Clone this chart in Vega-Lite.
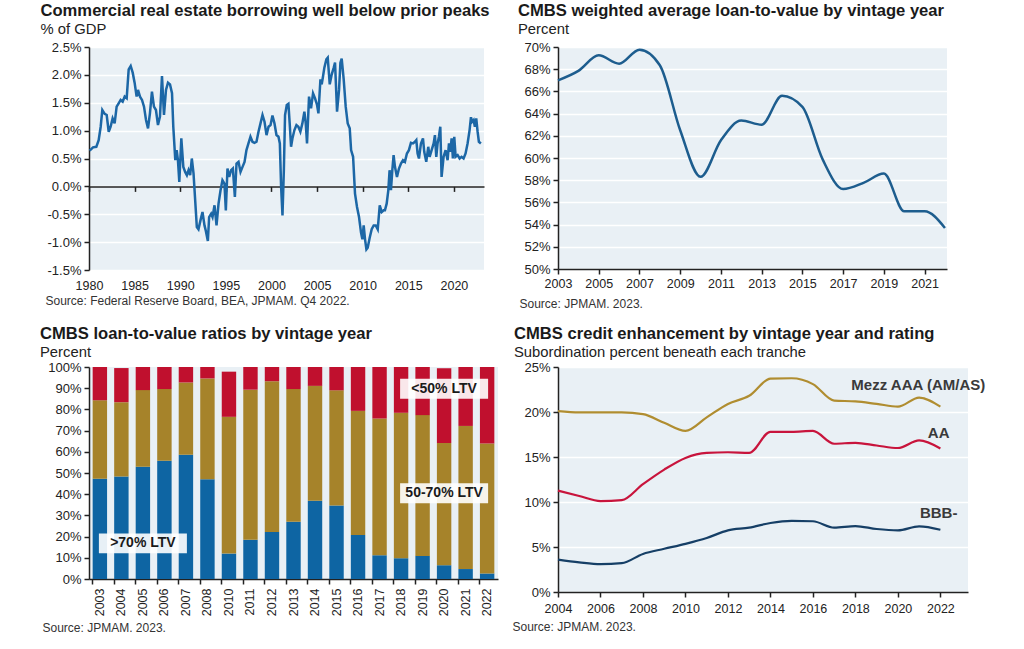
{
  "$schema": "https://vega.github.io/schema/vega-lite/v6.json",
  "background": "white",
  "padding": {"left": 40, "top": 2, "right": 5, "bottom": 5},
  "config": {
    "font": "Liberation Sans",
    "view": {"fill": "#e9f0f5", "stroke": null},
    "axis": {
      "labelFont": "Liberation Sans", "labelFontSize": 12.5, "labelColor": "#222",
      "domainColor": "#222", "tickColor": "#222", "domainWidth": 1.5, "tickWidth": 1.5, "tickSize": 5,
      "gridColor": "#ffffff", "gridWidth": 1.5, "labelPadding": 3,
      "titleFont": "Liberation Sans", "titleFontSize": 12, "titleFontWeight": "normal", "titleColor": "#333",
      "titleAnchor": "start", "titleAlign": "left", "titleBaseline": "alphabetic"
    },
    "axisX": {"labelFlush": false, "labelOverlap": false},
    "axisY": {"labelOverlap": false},
    "title": {
      "font": "Liberation Sans", "fontSize": 16.6, "fontWeight": "bold", "color": "#1a1a1a", "anchor": "start", "frame": "group",
      "subtitleFont": "Liberation Sans", "subtitleFontSize": 14.8, "subtitleColor": "#222", "subtitlePadding": 3
    }
  },
  "datasets": {
    "gdp": [
      {"t":1980.07,"v":0.64},{"t":1980.44,"v":0.70},{"t":1980.80,"v":0.71},{"t":1981.06,"v":0.83},{"t":1981.28,"v":1.07},{"t":1981.46,"v":1.37},{"t":1981.72,"v":1.30},{"t":1981.94,"v":1.28},{"t":1982.16,"v":0.98},{"t":1982.37,"v":1.07},{"t":1982.59,"v":1.22},{"t":1982.81,"v":1.13},{"t":1983.03,"v":1.43},{"t":1983.25,"v":1.49},{"t":1983.47,"v":1.55},{"t":1983.69,"v":1.52},{"t":1983.91,"v":1.61},{"t":1984.13,"v":1.58},{"t":1984.35,"v":2.10},{"t":1984.57,"v":2.16},{"t":1984.79,"v":2.04},{"t":1985.00,"v":1.86},{"t":1985.22,"v":1.61},{"t":1985.37,"v":1.73},{"t":1985.59,"v":1.61},{"t":1985.81,"v":1.55},{"t":1986.03,"v":1.43},{"t":1986.25,"v":1.19},{"t":1986.47,"v":1.04},{"t":1986.68,"v":1.31},{"t":1986.90,"v":1.70},{"t":1987.12,"v":1.43},{"t":1987.34,"v":1.37},{"t":1987.56,"v":1.10},{"t":1987.78,"v":1.25},{"t":1988.00,"v":1.98},{"t":1988.22,"v":1.28},{"t":1988.44,"v":1.73},{"t":1988.66,"v":1.86},{"t":1988.88,"v":1.83},{"t":1989.10,"v":1.67},{"t":1989.24,"v":1.07},{"t":1989.46,"v":0.47},{"t":1989.61,"v":0.65},{"t":1989.75,"v":0.47},{"t":1989.90,"v":0.08},{"t":1990.12,"v":0.86},{"t":1990.34,"v":0.35},
      {"t":1990.54,"v":0.26},{"t":1990.73,"v":0.20},{"t":1990.91,"v":0.29},{"t":1991.09,"v":0.20},{"t":1991.27,"v":0.50},{"t":1991.46,"v":0.23},{"t":1991.64,"v":-0.25},{"t":1991.82,"v":-0.73},{"t":1992.00,"v":-0.77},{"t":1992.22,"v":-0.61},{"t":1992.44,"v":-0.46},{"t":1992.66,"v":-0.70},{"t":1992.81,"v":-0.80},{"t":1993.03,"v":-0.98},{"t":1993.17,"v":-0.55},{"t":1993.39,"v":-0.49},{"t":1993.54,"v":-0.55},{"t":1993.76,"v":-0.34},{"t":1993.98,"v":-0.70},{"t":1994.20,"v":-0.31},{"t":1994.42,"v":-0.07},{"t":1994.63,"v":0.11},{"t":1994.85,"v":0.05},{"t":1995.00,"v":-0.43},{"t":1995.18,"v":0.32},{"t":1995.37,"v":0.17},{"t":1995.58,"v":0.29},{"t":1995.77,"v":0.32},{"t":1995.99,"v":-0.19},{"t":1996.17,"v":0.41},{"t":1996.39,"v":0.44},{"t":1996.61,"v":0.26},{"t":1996.83,"v":0.35},{"t":1997.05,"v":0.44},{"t":1997.26,"v":0.65},{"t":1997.48,"v":0.77},{"t":1997.70,"v":0.89},{"t":1997.92,"v":0.80},{"t":1998.14,"v":0.78},{"t":1998.36,"v":0.80},{"t":1998.58,"v":0.98},{"t":1998.80,"v":1.13},{"t":1999.02,"v":1.28},{"t":1999.24,"v":1.16},{"t":1999.46,"v":0.92},{"t":1999.68,"v":1.07},{"t":1999.90,"v":1.10},{"t":2000.11,"v":1.27},{"t":2000.33,"v":1.13},{"t":2000.55,"v":0.92},{"t":2000.77,"v":0.89},{"t":2000.92,"v":0.77},{"t":2001.06,"v":-0.01},{"t":2001.21,"v":-0.52},{"t":2001.36,"v":0.29},
      {"t":2001.49,"v":1.28},{"t":2001.68,"v":1.46},{"t":2001.86,"v":1.48},{"t":2002.00,"v":1.13},{"t":2002.15,"v":0.71},{"t":2002.30,"v":0.86},{"t":2002.52,"v":1.01},{"t":2002.74,"v":1.10},{"t":2002.95,"v":1.07},{"t":2003.17,"v":0.98},{"t":2003.39,"v":1.13},{"t":2003.61,"v":1.34},{"t":2003.76,"v":1.13},{"t":2003.90,"v":0.77},{"t":2004.12,"v":1.61},{"t":2004.34,"v":1.40},{"t":2004.56,"v":1.67},{"t":2004.78,"v":1.58},{"t":2005.00,"v":1.46},{"t":2005.15,"v":1.31},{"t":2005.37,"v":1.92},{"t":2005.51,"v":1.83},{"t":2005.66,"v":1.98},{"t":2005.80,"v":2.13},{"t":2006.02,"v":2.28},{"t":2006.17,"v":2.31},{"t":2006.39,"v":1.83},{"t":2006.61,"v":2.01},{"t":2006.83,"v":2.13},{"t":2006.97,"v":2.22},{"t":2007.19,"v":1.34},{"t":2007.41,"v":1.73},{"t":2007.56,"v":2.22},{"t":2007.70,"v":2.29},{"t":2007.92,"v":1.92},{"t":2008.14,"v":1.43},{"t":2008.36,"v":1.13},{"t":2008.58,"v":1.04},{"t":2008.73,"v":0.65},{"t":2008.95,"v":0.53},{"t":2009.16,"v":-0.13},{"t":2009.38,"v":-0.37},{"t":2009.60,"v":-0.55},{"t":2009.82,"v":-0.83},{"t":2009.97,"v":-0.95},{"t":2010.11,"v":-0.70},{"t":2010.26,"v":-0.95},{"t":2010.41,"v":-1.13},{"t":2010.55,"v":-1.10},{"t":2010.77,"v":-0.92},{"t":2010.99,"v":-0.77},{"t":2011.21,"v":-0.70},{"t":2011.43,"v":-0.70},{"t":2011.65,"v":-0.77},{"t":2011.87,"v":-0.34},{"t":2012.09,"v":-0.46},{"t":2012.31,"v":-0.43},
      {"t":2012.44,"v":-0.43},{"t":2012.63,"v":-0.31},{"t":2012.81,"v":-0.07},{"t":2012.95,"v":0.29},{"t":2013.10,"v":-0.07},{"t":2013.25,"v":0.29},{"t":2013.39,"v":0.56},{"t":2013.54,"v":0.35},{"t":2013.76,"v":0.17},{"t":2013.98,"v":0.32},{"t":2014.20,"v":0.41},{"t":2014.42,"v":0.47},{"t":2014.63,"v":0.44},{"t":2014.85,"v":0.59},{"t":2015.07,"v":0.65},{"t":2015.29,"v":0.78},{"t":2015.51,"v":0.77},{"t":2015.73,"v":0.80},{"t":2015.88,"v":0.83},{"t":2016.02,"v":0.59},{"t":2016.17,"v":0.50},{"t":2016.39,"v":0.77},{"t":2016.61,"v":0.86},{"t":2016.75,"v":0.62},{"t":2016.97,"v":0.44},{"t":2017.19,"v":0.71},{"t":2017.34,"v":0.53},{"t":2017.56,"v":0.65},{"t":2017.78,"v":0.77},{"t":2017.92,"v":0.92},{"t":2018.07,"v":0.53},{"t":2018.21,"v":0.77},{"t":2018.36,"v":0.89},{"t":2018.51,"v":1.07},{"t":2018.65,"v":0.17},{"t":2018.87,"v":0.53},{"t":2019.09,"v":0.65},{"t":2019.31,"v":0.47},{"t":2019.46,"v":0.77},{"t":2019.60,"v":0.62},{"t":2019.75,"v":0.86},{"t":2019.89,"v":0.50},{"t":2020.04,"v":0.89},{"t":2020.19,"v":0.53},{"t":2020.41,"v":0.56},{"t":2020.63,"v":0.50},{"t":2020.84,"v":0.53},{"t":2021.06,"v":0.50},{"t":2021.28,"v":0.59},{"t":2021.50,"v":0.77},{"t":2021.72,"v":1.01},{"t":2021.87,"v":1.24},{"t":2022.01,"v":1.16},{"t":2022.16,"v":1.19},{"t":2022.30,"v":1.07},{"t":2022.45,"v":1.22},{"t":2022.60,"v":0.98},{"t":2022.74,"v":0.80},{"t":2022.96,"v":0.77}
    ],
    "ltv": [
      {"year":2003,"v":67.0},{"year":2004,"v":67.85},{"year":2005,"v":69.25},{"year":2006,"v":68.5},{"year":2007,"v":69.76},{"year":2008,"v":68.36},{"year":2009,"v":62.5},{"year":2010,"v":58.3},{"year":2011,"v":61.6},{"year":2012,"v":63.37},{"year":2013,"v":63.0},{"year":2014,"v":65.6},{"year":2015,"v":64.6},{"year":2016,"v":59.85},{"year":2017,"v":57.2},{"year":2018,"v":57.76},{"year":2019,"v":58.6},{"year":2020,"v":55.2},{"year":2021,"v":55.2},{"year":2022,"v":53.7}
    ],
    "bars": [
      {"year":"2003","cat":">70% LTV","ord":0,"v":47.3},{"year":"2003","cat":"50-70% LTV","ord":1,"v":37.0},{"year":"2003","cat":"<50% LTV","ord":2,"v":15.7},
      {"year":"2004","cat":">70% LTV","ord":0,"v":48.4},{"year":"2004","cat":"50-70% LTV","ord":1,"v":35.0},{"year":"2004","cat":"<50% LTV","ord":2,"v":16.1},
      {"year":"2005","cat":">70% LTV","ord":0,"v":53.0},{"year":"2005","cat":"50-70% LTV","ord":1,"v":36.1},{"year":"2005","cat":"<50% LTV","ord":2,"v":10.9},
      {"year":"2006","cat":">70% LTV","ord":0,"v":55.8},{"year":"2006","cat":"50-70% LTV","ord":1,"v":33.8},{"year":"2006","cat":"<50% LTV","ord":2,"v":10.4},
      {"year":"2007","cat":">70% LTV","ord":0,"v":58.6},{"year":"2007","cat":"50-70% LTV","ord":1,"v":34.1},{"year":"2007","cat":"<50% LTV","ord":2,"v":7.3},
      {"year":"2008","cat":">70% LTV","ord":0,"v":47.1},{"year":"2008","cat":"50-70% LTV","ord":1,"v":47.5},{"year":"2008","cat":"<50% LTV","ord":2,"v":5.4},
      {"year":"2010","cat":">70% LTV","ord":0,"v":12.0},{"year":"2010","cat":"50-70% LTV","ord":1,"v":64.5},{"year":"2010","cat":"<50% LTV","ord":2,"v":21.3},
      {"year":"2011","cat":">70% LTV","ord":0,"v":18.5},{"year":"2011","cat":"50-70% LTV","ord":1,"v":70.8},{"year":"2011","cat":"<50% LTV","ord":2,"v":10.7},
      {"year":"2012","cat":">70% LTV","ord":0,"v":22.2},{"year":"2012","cat":"50-70% LTV","ord":1,"v":71.1},{"year":"2012","cat":"<50% LTV","ord":2,"v":6.7},
      {"year":"2013","cat":">70% LTV","ord":0,"v":27.0},{"year":"2013","cat":"50-70% LTV","ord":1,"v":62.6},{"year":"2013","cat":"<50% LTV","ord":2,"v":10.4},
      {"year":"2014","cat":">70% LTV","ord":0,"v":36.9},{"year":"2014","cat":"50-70% LTV","ord":1,"v":54.2},{"year":"2014","cat":"<50% LTV","ord":2,"v":8.9},
      {"year":"2015","cat":">70% LTV","ord":0,"v":34.7},{"year":"2015","cat":"50-70% LTV","ord":1,"v":54.3},{"year":"2015","cat":"<50% LTV","ord":2,"v":11.0},
      {"year":"2016","cat":">70% LTV","ord":0,"v":20.8},{"year":"2016","cat":"50-70% LTV","ord":1,"v":58.5},{"year":"2016","cat":"<50% LTV","ord":2,"v":20.7},
      {"year":"2017","cat":">70% LTV","ord":0,"v":11.2},{"year":"2017","cat":"50-70% LTV","ord":1,"v":64.5},{"year":"2017","cat":"<50% LTV","ord":2,"v":24.3},
      {"year":"2018","cat":">70% LTV","ord":0,"v":9.8},{"year":"2018","cat":"50-70% LTV","ord":1,"v":68.6},{"year":"2018","cat":"<50% LTV","ord":2,"v":21.6},
      {"year":"2019","cat":">70% LTV","ord":0,"v":10.9},{"year":"2019","cat":"50-70% LTV","ord":1,"v":66.4},{"year":"2019","cat":"<50% LTV","ord":2,"v":22.7},
      {"year":"2020","cat":">70% LTV","ord":0,"v":6.5},{"year":"2020","cat":"50-70% LTV","ord":1,"v":57.7},{"year":"2020","cat":"<50% LTV","ord":2,"v":35.2},
      {"year":"2021","cat":">70% LTV","ord":0,"v":4.7},{"year":"2021","cat":"50-70% LTV","ord":1,"v":67.5},{"year":"2021","cat":"<50% LTV","ord":2,"v":27.8},
      {"year":"2022","cat":">70% LTV","ord":0,"v":2.6},{"year":"2022","cat":"50-70% LTV","ord":1,"v":61.3},{"year":"2022","cat":"<50% LTV","ord":2,"v":36.1}
    ],
    "barLabels": [
      {"year":"2005","y":16.8,"label":">70% LTV"},
      {"year":"2020","y":40.4,"label":"50-70% LTV"},
      {"year":"2020","y":89.7,"label":"<50% LTV"}
    ],
    "enh": [
      {"year":2004,"s":"Mezz AAA (AM/AS)","v":20.1},{"year":2005,"s":"Mezz AAA (AM/AS)","v":19.95},{"year":2006,"s":"Mezz AAA (AM/AS)","v":19.95},{"year":2007,"s":"Mezz AAA (AM/AS)","v":19.95},{"year":2008,"s":"Mezz AAA (AM/AS)","v":19.76},{"year":2009,"s":"Mezz AAA (AM/AS)","v":18.8},{"year":2010,"s":"Mezz AAA (AM/AS)","v":17.9},{"year":2011,"s":"Mezz AAA (AM/AS)","v":19.4},{"year":2012,"s":"Mezz AAA (AM/AS)","v":20.9},{"year":2013,"s":"Mezz AAA (AM/AS)","v":21.8},{"year":2014,"s":"Mezz AAA (AM/AS)","v":23.7},{"year":2015,"s":"Mezz AAA (AM/AS)","v":23.75},{"year":2016,"s":"Mezz AAA (AM/AS)","v":23.1},{"year":2017,"s":"Mezz AAA (AM/AS)","v":21.26},{"year":2018,"s":"Mezz AAA (AM/AS)","v":21.18},{"year":2019,"s":"Mezz AAA (AM/AS)","v":20.9},{"year":2020,"s":"Mezz AAA (AM/AS)","v":20.6},{"year":2021,"s":"Mezz AAA (AM/AS)","v":21.6},{"year":2022,"s":"Mezz AAA (AM/AS)","v":20.6},
      {"year":2004,"s":"AA","v":11.26},{"year":2005,"s":"AA","v":10.67},{"year":2006,"s":"AA","v":10.1},{"year":2007,"s":"AA","v":10.2},{"year":2008,"s":"AA","v":11.98},{"year":2009,"s":"AA","v":13.6},{"year":2010,"s":"AA","v":14.9},{"year":2011,"s":"AA","v":15.46},{"year":2012,"s":"AA","v":15.53},{"year":2013,"s":"AA","v":15.46},{"year":2014,"s":"AA","v":17.8},{"year":2015,"s":"AA","v":17.8},{"year":2016,"s":"AA","v":17.9},{"year":2017,"s":"AA","v":16.47},{"year":2018,"s":"AA","v":16.58},{"year":2019,"s":"AA","v":16.28},{"year":2020,"s":"AA","v":16.0},{"year":2021,"s":"AA","v":16.84},{"year":2022,"s":"AA","v":15.94},
      {"year":2004,"s":"BBB-","v":3.6},{"year":2005,"s":"BBB-","v":3.3},{"year":2006,"s":"BBB-","v":3.1},{"year":2007,"s":"BBB-","v":3.2},{"year":2008,"s":"BBB-","v":4.23},{"year":2009,"s":"BBB-","v":4.8},{"year":2010,"s":"BBB-","v":5.35},{"year":2011,"s":"BBB-","v":6.0},{"year":2012,"s":"BBB-","v":6.85},{"year":2013,"s":"BBB-","v":7.15},{"year":2014,"s":"BBB-","v":7.67},{"year":2015,"s":"BBB-","v":7.9},{"year":2016,"s":"BBB-","v":7.86},{"year":2017,"s":"BBB-","v":7.15},{"year":2018,"s":"BBB-","v":7.33},{"year":2019,"s":"BBB-","v":7.0},{"year":2020,"s":"BBB-","v":6.85},{"year":2021,"s":"BBB-","v":7.3},{"year":2022,"s":"BBB-","v":6.92}
    ],
    "enhLabels": [
      {"x":2020.96,"y":22.98,"label":"Mezz AAA (AM/AS)"},
      {"x":2021.92,"y":17.7,"label":"AA"},
      {"x":2021.92,"y":8.74,"label":"BBB-"}
    ]
  },
  "bounds": "flush",
  "columns": 2,
  "spacing": {"row": 97, "column": 60},
  "resolve": {"scale": {"color": "independent"}},
  "concat": [
    {
      "width": 395, "height": 223,
      "title": {"text": "Commercial real estate borrowing well below prior peaks", "subtitle": "% of GDP", "dx": -48.5, "offset": 4},
      "data": {"name": "gdp"},
      "mark": {"type": "line", "color": "#1c67a6", "strokeWidth": 2.5, "clip": true},
      "encoding": {
        "x": {"field": "t", "type": "quantitative", "scale": {"domain": [1980, 2023.3], "nice": false, "zero": false},
          "axis": {"values": [1980,1985,1990,1995,2000,2005,2010,2015,2020], "format": "d", "grid": false, "offset": -83.6, "labelPadding": 88,
            "title": "Source: Federal Reserve Board, BEA, JPMAM. Q4 2022.", "titleX": -44, "titleY": 117.6}},
        "y": {"field": "v", "type": "quantitative", "scale": {"domain": [-1.5, 2.5], "nice": false},
          "axis": {"values": [-1.5,-1,-0.5,0,0.5,1,1.5,2,2.5], "labelExpr": "replace(format(datum.value, '.1f'), '\u2212', '-') + '%'", "grid": true, "title": null, "labelFontSize": 13, "labelOverlap": false}}
      }
    },
    {
      "width": 389, "height": 222,
      "title": {"text": "CMBS weighted average loan-to-value by vintage year", "subtitle": "Percent", "dx": -40, "offset": 4},
      "data": {"name": "ltv"},
      "mark": {"type": "line", "color": "#1d5d8e", "strokeWidth": 2.5, "interpolate": "monotone"},
      "encoding": {
        "x": {"field": "year", "type": "quantitative", "scale": {"domain": [2003, 2022.1], "nice": false, "zero": false},
          "axis": {"values": [2003,2005,2007,2009,2011,2013,2015,2017,2019,2021], "format": "d", "grid": false,
            "title": "Source: JPMAM. 2023.", "titleX": -39, "titleY": 38}},
        "y": {"field": "v", "type": "quantitative", "scale": {"domain": [50, 70], "nice": false, "zero": false},
          "axis": {"values": [50,52,54,56,58,60,62,64,66,68,70], "labelExpr": "datum.value + '%'", "grid": true, "title": null, "labelFontSize": 13, "labelOverlap": false}}
      }
    },
    {
      "width": 409, "height": 212,
      "title": {"text": "CMBS loan-to-value ratios by vintage year", "subtitle": "Percent", "dx": -49, "offset": 1},
      "layer": [
        {
          "data": {"name": "bars"},
          "mark": {"type": "bar"},
          "encoding": {
            "x": {"field": "year", "type": "nominal", "sort": null, "scale": {"paddingInner": 0.33, "paddingOuter": 0.17},
              "axis": {"labelAngle": -90, "labelAlign": "right", "labelBaseline": "middle", "bandPosition": 0, "labelPadding": 4,
                "title": "Source: JPMAM. 2023.", "titleX": -47, "titleY": 52}},
            "y": {"field": "v", "type": "quantitative", "stack": "zero", "scale": {"domain": [0, 100], "nice": false},
              "axis": {"values": [0,10,20,30,40,50,60,70,80,90,100], "labelExpr": "datum.value + '%'", "grid": false, "title": null, "labelFontSize": 13, "labelOverlap": false}},
            "color": {"field": "cat", "type": "nominal", "scale": {"domain": [">70% LTV", "50-70% LTV", "<50% LTV"], "range": ["#0e65a3", "#a6832a", "#c0102e"]}, "legend": null},
            "order": {"field": "ord", "type": "quantitative"}
          }
        },
        {
          "data": {"name": "barLabels"},
          "mark": {"type": "point", "shape": "M-1,-0.227L1,-0.227L1,0.227L-1,0.227Z", "size": 7744, "filled": true, "fill": "#ffffff", "fillOpacity": 0.9, "strokeWidth": 0},
          "encoding": {
            "x": {"field": "year", "type": "nominal", "sort": null,
              "axis": {"labelAngle": -90, "labelAlign": "right", "labelBaseline": "middle", "bandPosition": 0, "labelPadding": 4,
                "title": "Source: JPMAM. 2023.", "titleX": -47, "titleY": 52}},
            "y": {"field": "y", "type": "quantitative",
              "axis": {"values": [0,10,20,30,40,50,60,70,80,90,100], "labelExpr": "datum.value + '%'", "grid": false, "title": null, "labelFontSize": 13, "labelOverlap": false}}
          }
        },
        {
          "data": {"name": "barLabels"},
          "mark": {"type": "text", "font": "Liberation Sans", "fontSize": 14, "fontWeight": "bold", "color": "#1a1a1a", "align": "center", "baseline": "middle"},
          "encoding": {
            "x": {"field": "year", "type": "nominal", "sort": null,
              "axis": {"labelAngle": -90, "labelAlign": "right", "labelBaseline": "middle", "bandPosition": 0, "labelPadding": 4,
                "title": "Source: JPMAM. 2023.", "titleX": -47, "titleY": 52}},
            "y": {"field": "y", "type": "quantitative",
              "axis": {"values": [0,10,20,30,40,50,60,70,80,90,100], "labelExpr": "datum.value + '%'", "grid": false, "title": null, "labelFontSize": 13, "labelOverlap": false}},
            "text": {"field": "label"}
          }
        }
      ]
    },
    {
      "width": 410, "height": 225,
      "title": {"text": "CMBS credit enhancement by vintage year and rating", "subtitle": "Subordination percent beneath each tranche", "dx": -44, "offset": 1},
      "layer": [
        {
          "data": {"name": "enh"},
          "mark": {"type": "line", "strokeWidth": 2.2, "interpolate": "monotone"},
          "encoding": {
            "x": {"field": "year", "type": "quantitative", "scale": {"domain": [2004, 2023.3], "nice": false, "zero": false},
              "axis": {"values": [2004,2006,2008,2010,2012,2014,2016,2018,2020,2022], "format": "d", "grid": false, "labelPadding": 5,
                "title": "Source: JPMAM. 2023.", "titleX": -46, "titleY": 38}},
            "y": {"field": "v", "type": "quantitative", "scale": {"domain": [0, 25], "nice": false},
              "axis": {"values": [0,5,10,15,20,25], "labelExpr": "datum.value + '%'", "grid": true, "title": null, "labelFontSize": 13, "labelOverlap": false}},
            "color": {"field": "s", "type": "nominal", "scale": {"domain": ["Mezz AAA (AM/AS)", "AA", "BBB-"], "range": ["#b08d30", "#c8143c", "#163f66"]}, "legend": null}
          }
        },
        {
          "data": {"name": "enhLabels"},
          "mark": {"type": "text", "font": "Liberation Sans", "fontSize": 15, "fontWeight": "bold", "color": "#3a3a3a", "align": "center", "baseline": "middle"},
          "encoding": {
            "x": {"field": "x", "type": "quantitative",
              "axis": {"values": [2004,2006,2008,2010,2012,2014,2016,2018,2020,2022], "format": "d", "grid": false, "labelPadding": 5,
                "title": "Source: JPMAM. 2023.", "titleX": -46, "titleY": 38}},
            "y": {"field": "y", "type": "quantitative",
              "axis": {"values": [0,5,10,15,20,25], "labelExpr": "datum.value + '%'", "grid": true, "title": null, "labelFontSize": 13, "labelOverlap": false}},
            "text": {"field": "label"}
          }
        }
      ]
    }
  ]
}
